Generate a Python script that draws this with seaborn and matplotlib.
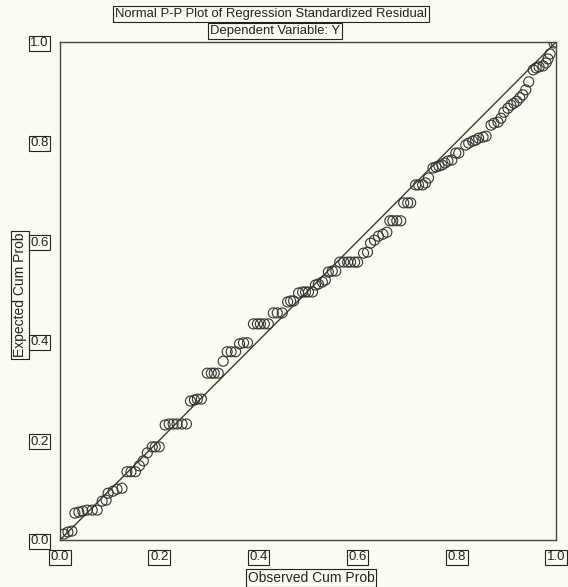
import numpy as np
import pandas as pd
import matplotlib
matplotlib.use("Agg")
import matplotlib.pyplot as plt
import seaborn as sns

# Observed / expected cumulative probabilities
observed = [0.008, 0.016, 0.024, 0.030, 0.038, 0.046, 0.055, 0.065, 0.075, 0.085,
            0.093, 0.097, 0.107, 0.115, 0.125, 0.135, 0.143, 0.152, 0.160, 0.168,
            0.176, 0.186, 0.192, 0.200, 0.212, 0.220, 0.228, 0.236, 0.246, 0.255,
            0.263, 0.271, 0.277, 0.285, 0.297, 0.305, 0.311, 0.319, 0.329, 0.337,
            0.345, 0.354, 0.362, 0.370, 0.378, 0.390, 0.398, 0.404, 0.412, 0.420,
            0.430, 0.438, 0.448, 0.459, 0.465, 0.471, 0.481, 0.489, 0.495, 0.501,
            0.509, 0.515, 0.521, 0.529, 0.535, 0.541, 0.549, 0.556, 0.564, 0.572,
            0.580, 0.586, 0.594, 0.600, 0.612, 0.620, 0.626, 0.634, 0.642, 0.651,
            0.659, 0.665, 0.671, 0.679, 0.687, 0.693, 0.701, 0.707, 0.717, 0.723,
            0.731, 0.737, 0.743, 0.752, 0.758, 0.764, 0.770, 0.776, 0.782, 0.790,
            0.798, 0.804, 0.818, 0.824, 0.832, 0.838, 0.844, 0.853, 0.859, 0.869,
            0.875, 0.883, 0.889, 0.895, 0.903, 0.909, 0.915, 0.921, 0.927, 0.933,
            0.939, 0.945, 0.954, 0.960, 0.966, 0.974, 0.980, 0.984, 0.988, 0.996,
            1.000]
expected = [0.012, 0.016, 0.018, 0.054, 0.056, 0.058, 0.060, 0.060, 0.060, 0.078,
            0.080, 0.094, 0.098, 0.102, 0.104, 0.137, 0.137, 0.137, 0.149, 0.159,
            0.175, 0.187, 0.187, 0.187, 0.231, 0.233, 0.233, 0.233, 0.233, 0.233,
            0.279, 0.281, 0.283, 0.283, 0.335, 0.335, 0.335, 0.335, 0.359, 0.378,
            0.378, 0.378, 0.394, 0.396, 0.396, 0.434, 0.434, 0.434, 0.434, 0.434,
            0.456, 0.456, 0.456, 0.478, 0.480, 0.480, 0.496, 0.498, 0.498, 0.498,
            0.498, 0.512, 0.514, 0.518, 0.522, 0.538, 0.540, 0.540, 0.558, 0.558,
            0.558, 0.558, 0.558, 0.558, 0.576, 0.578, 0.596, 0.602, 0.610, 0.614,
            0.618, 0.641, 0.641, 0.641, 0.641, 0.677, 0.677, 0.677, 0.713, 0.713,
            0.713, 0.717, 0.727, 0.747, 0.749, 0.751, 0.753, 0.757, 0.761, 0.763,
            0.777, 0.777, 0.793, 0.797, 0.801, 0.803, 0.807, 0.809, 0.811, 0.833,
            0.837, 0.839, 0.847, 0.859, 0.867, 0.873, 0.877, 0.881, 0.888, 0.894,
            0.904, 0.920, 0.944, 0.948, 0.950, 0.952, 0.958, 0.966, 0.976, 0.998,
            1.000]
ref_line = [0.0, 1.0]
ticks = [0.0, 0.2, 0.4, 0.6, 0.8, 1.0]
tick_labels = ["0.0", "0.2", "0.4", "0.6", "0.8", "1.0"]

df = pd.DataFrame({"Observed": observed, "Expected": expected})

sns.set_style("white")
plt.rcParams["font.family"] = ["Liberation Sans", "DejaVu Sans"]

bg = "#fbfbf1"
ink = "#333333"
box = dict(boxstyle="square,pad=0.12", fc="none", ec="#222222", lw=0.8)

fig = plt.figure(figsize=(5.68, 5.87), dpi=100, facecolor=bg)
ax = fig.add_axes([60 / 568, 47 / 587, 496 / 568, 498 / 587], facecolor=bg)

# diagonal reference line
sns.lineplot(x=ref_line, y=ref_line, ax=ax, color="#3a3a3a", lw=1.0)
# points
sns.scatterplot(data=df, x="Observed", y="Expected", ax=ax, marker="o", s=52,
                facecolor="none", edgecolor=ink, linewidth=0.8, zorder=3)

ax.set_xlim(0, 1)
ax.set_ylim(0, 1)
ax.set_xticks(ticks)
ax.set_yticks(ticks)
ax.set_xticklabels(tick_labels)
ax.set_yticklabels(tick_labels)
ax.tick_params(axis="both", direction="out", length=6, width=0.9, color=ink,
               labelsize=9.5, labelcolor="#222222", pad=2)
for lab in ax.get_xticklabels() + ax.get_yticklabels():
    lab.set_bbox(box)
for sp in ax.spines.values():
    sp.set_color("#444444")
    sp.set_linewidth(1.0)
ax.set_xlabel("")
ax.set_ylabel("")

fig.text(311 / 568, 9 / 587, "Observed Cum Prob", ha="center", va="center",
         fontsize=10, color="#222222", bbox=box)
fig.text(20 / 568, 1 - 295 / 587, "Expected Cum Prob", ha="center", va="center",
         rotation=90, fontsize=10, color="#222222", bbox=box)
fig.text(271 / 568, 1 - 14 / 587, "Normal P-P Plot of Regression Standardized Residual",
         ha="center", va="center", fontsize=9.4, color="#222222", bbox=box)
fig.text(275 / 568, 1 - 31 / 587, "Dependent Variable: Y",
         ha="center", va="center", fontsize=9.4, color="#222222", bbox=box)

fig.savefig("out.png", dpi=100, facecolor=bg)
